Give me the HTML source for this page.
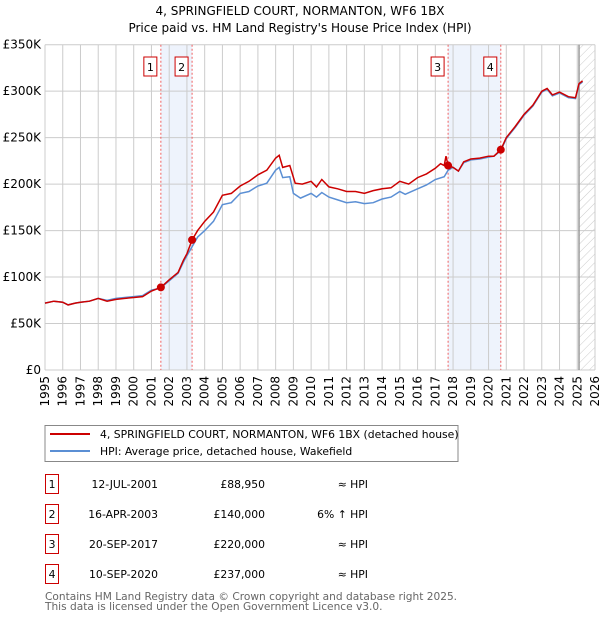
<!DOCTYPE html>
<html><head><meta charset="utf-8"><style>
body{margin:0;background:#fff;}
svg{display:block;font-family:"DejaVu Sans","Liberation Sans",sans-serif;}
</style></head><body>
<svg id="chart" width="600" height="620" viewBox="0 0 600 620" xmlns="http://www.w3.org/2000/svg">
<defs><pattern id="hatch" width="6" height="6" patternUnits="userSpaceOnUse" patternTransform="rotate(45)"><line x1="0" y1="0" x2="0" y2="6" stroke="#ccc" stroke-width="1"/></pattern></defs>
<text x="300" y="15" text-anchor="middle" font-size="12">4, SPRINGFIELD COURT, NORMANTON, WF6 1BX</text>
<text x="300" y="32" text-anchor="middle" font-size="12">Price paid vs. HM Land Registry's House Price Index (HPI)</text>
<g id="plot"></g>
<g>
<rect x="45" y="425.5" width="413" height="36" fill="#fff" stroke="#888"/>
<line x1="50" y1="434" x2="90" y2="434" stroke="#cc0000" stroke-width="2"/>
<text x="100" y="438" font-size="10.8">4, SPRINGFIELD COURT, NORMANTON, WF6 1BX (detached house)</text>
<line x1="50" y1="451" x2="90" y2="451" stroke="#5b8fd4" stroke-width="2"/>
<text x="100" y="455" font-size="10.8">HPI: Average price, detached house, Wakefield</text>
</g>
<g id="table" font-size="10.8"></g>
<text x="45" y="600" font-size="10.6" fill="#666">Contains HM Land Registry data © Crown copyright and database right 2025.</text>
<text x="45" y="610" font-size="10.6" fill="#666">This data is licensed under the Open Government Licence v3.0.</text>
</svg>
<script>
const redT=[1995,1995.5,1996,1996.3,1996.7,1997,1997.5,1998,1998.5,1999,1999.5,2000,2000.5,2001,2001.53,2002,2002.5,2002.8,2003,2003.29,2003.6,2004,2004.5,2005,2005.5,2006,2006.5,2007,2007.5,2008,2008.2,2008.4,2008.8,2009.1,2009.5,2010,2010.3,2010.6,2011,2011.5,2012,2012.5,2013,2013.5,2014,2014.5,2015,2015.5,2016,2016.5,2017,2017.3,2017.5,2017.6,2017.72,2018,2018.3,2018.6,2019,2019.5,2020,2020.3,2020.69,2021,2021.5,2022,2022.5,2023,2023.3,2023.6,2024,2024.5,2024.9,2025.1,2025.3];
const redV=[72,74,73,70,72,73,74,77,74,76,77,78,79,85,88.95,97,105,118,125,140,150,160,170,188,190,198,203,210,215,228,231,218,220,201,200,203,197,205,197,195,192,192,190,193,195,196,203,200,207,211,217,222,220,230,220,218,214,224,227,228,230,230,237,250,262,275,285,300,303,296,299,294,293,308,311];
const hpiT=[1995,1995.5,1996,1996.3,1996.7,1997,1997.5,1998,1998.5,1999,1999.5,2000,2000.5,2001,2001.5,2002,2002.5,2002.8,2003,2003.3,2003.6,2004,2004.5,2005,2005.5,2006,2006.5,2007,2007.5,2008,2008.2,2008.4,2008.8,2009,2009.4,2010,2010.3,2010.6,2011,2011.5,2012,2012.5,2013,2013.5,2014,2014.5,2015,2015.3,2016,2016.5,2017,2017.5,2017.72,2018,2018.3,2018.6,2019,2019.5,2020,2020.3,2020.69,2021,2021.5,2022,2022.5,2023,2023.3,2023.6,2024,2024.5,2024.9,2025.1,2025.3];
const hpiV=[72,74,73,70,72,73,74,77,75,77,78,79,80,86,88,96,104,116,123,133,143,150,160,178,180,190,192,198,201,215,218,207,208,190,185,190,186,191,186,183,180,181,179,180,184,186,192,189,195,199,205,208,215,218,214,223,226,227,229,230,236,249,261,274,284,299,302,295,298,293,292,307,310];
const saleT=[2001.53,2003.29,2017.72,2020.69];
const saleV=[88950,140000,220000,237000];
const saleLbl=["1","2","3","4"];
const saleDate=["12-JUL-2001","16-APR-2003","20-SEP-2017","10-SEP-2020"];
const salePrice=["£88,950","£140,000","£220,000","£237,000"];
const saleHpi=["≈ HPI","6% ↑ HPI","≈ HPI","≈ HPI"];
const yTicks=[0,50000,100000,150000,200000,250000,300000,350000];
const yTickLbl=["£0","£50K","£100K","£150K","£200K","£250K","£300K","£350K"];
const xYears=[1995,1996,1997,1998,1999,2000,2001,2002,2003,2004,2005,2006,2007,2008,2009,2010,2011,2012,2013,2014,2015,2016,2017,2018,2019,2020,2021,2022,2023,2024,2025,2026];

const NS="http://www.w3.org/2000/svg";
const L=45,R=595,T=44.7,B=370;
const sx=t=>L+(t-1995)/(2026-1995)*(R-L);
const sy=v=>B-v/350000*(B-T);
function mk(tag,at,parent){const e=document.createElementNS(NS,tag);for(const k in at)e.setAttribute(k,at[k]);parent.appendChild(e);return e;}
const plot=document.getElementById('plot');
for(const [a,b] of [[0,1],[2,3]]){
  const r=mk('rect',{x:sx(saleT[a]),y:T,width:sx(saleT[b])-sx(saleT[a]),height:B-T,fill:'#eef3fc'},plot);
  
  
}
const hat=mk('rect',{x:sx(2025.1),y:T,width:R-sx(2025.1),height:B-T,fill:'url(#hatch)'},plot);


yTicks.forEach((v,i)=>{
  const g=mk('line',{x1:L,x2:R,y1:sy(v),y2:sy(v),stroke:'#ccc'},plot);
  
  
  const t=mk('text',{x:L-4,y:sy(v)+4,'text-anchor':'end','font-size':'12'},plot);
  
  
  t.textContent=yTickLbl[i];
});
xYears.forEach(y=>{
  const g=mk('line',{x1:sx(y),x2:sx(y),y1:T,y2:B,stroke:'#ccc'},plot);
  
  
  const t=mk('text',{x:0,y:0,'font-size':'12','text-anchor':'end',transform:`translate(${sx(y)+4},${B+6}) rotate(-90)`},plot);
  
  
  t.textContent=y;
});
mk('line',{x1:sx(2025.1),x2:sx(2025.1),y1:T,y2:B,stroke:'#999','stroke-width':1.5},plot);
saleT.forEach((t,i)=>{
  const l=mk('line',{x1:sx(t),x2:sx(t),y1:T,y2:B,stroke:'#f06060','stroke-dasharray':'2,2'},plot);
  
  
  const bx=mk('rect',{x:sx(t)-17,y:57,width:13,height:19,fill:'#fff',stroke:'#cc0000'},plot);
  
  
  const tx=mk('text',{x:sx(t)-10.5,y:71,'text-anchor':'middle','font-size':'11'},plot);
  
  
  tx.textContent=saleLbl[i];
});
const path=(ts,vs)=>ts.map((t,i)=>(i?'L':'M')+sx(t).toFixed(1)+','+sy(vs[i]*1000).toFixed(1)).join('');
const hp=mk('path',{d:path(hpiT,hpiV),fill:'none',stroke:'#5b8fd4','stroke-width':1.5},plot);


const rp=mk('path',{d:path(redT,redV),fill:'none',stroke:'#cc0000','stroke-width':1.5},plot);


saleT.forEach((t,i)=>{
  const c=mk('circle',{cx:sx(t),cy:sy(saleV[i]),r:4,fill:'#cc0000'},plot);
  
  
});
const tb=document.getElementById('table');
saleT.forEach((t,i)=>{
  const yc=484+i*30;
  const b=mk('rect',{x:45.5,y:yc-9.5,width:13,height:19,fill:'#fff',stroke:'#cc0000'},tb);
  
  
  const cells=[[52,'middle',saleLbl[i]],[158,'end',saleDate[i]],[265,'end',salePrice[i]],[368,'end',saleHpi[i]]];
  cells.forEach(([x,a,s],j)=>{
    const e=mk('text',{x:x,y:yc+4,'text-anchor':a},tb);
    
    
    e.textContent=s;
  });
});
</script>
</body></html>
